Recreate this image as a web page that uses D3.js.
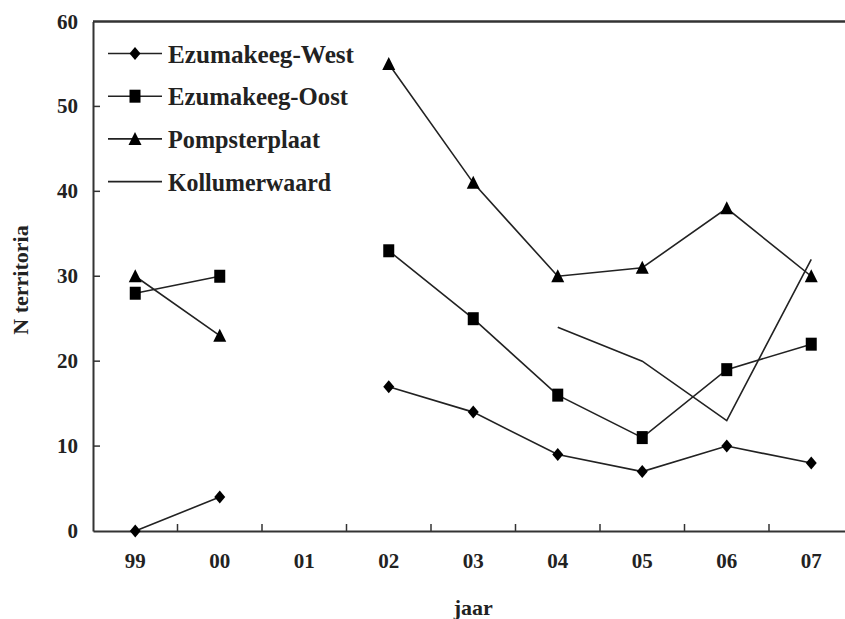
<!DOCTYPE html>
<html lang="en">

<head>
	<meta charset="utf-8">
	<title>N territoria per jaar</title>
	<script type="text/javascript" src="https://cdn.jsdelivr.net/npm/d3@7/dist/d3.min.js"></script>
	<style type="text/css">
		body { margin: 0; background: #fff; }
		text { font-family: "Liberation Serif", "Times New Roman", serif; font-weight: bold; fill: #222; }
	</style>
</head>

<body>
	<script type="text/javascript">
		//Width and height
		var w = 845;
		var h = 619;

		// data
		var years = ["99", "00", "01", "02", "03", "04", "05", "06", "07"];
		var westValues = [0, 4, null, 17, 14, 9, 7, 10, 8];
		var oostValues = [28, 30, null, 33, 25, 16, 11, 19, 22];
		var pompValues = [30, 23, null, 55, 41, 30, 31, 38, 30];
		var kollumValues = [null, null, null, null, null, 24, 20, 13, 32];
		var seriesNames = ["Ezumakeeg-West", "Ezumakeeg-Oost", "Pompsterplaat", "Kollumerwaard"];
		var yTicks = [0, 10, 20, 30, 40, 50, 60];

		var series = [
			{ name: seriesNames[0], values: westValues, marker: "diamond" },
			{ name: seriesNames[1], values: oostValues, marker: "square" },
			{ name: seriesNames[2], values: pompValues, marker: "triangle" },
			{ name: seriesNames[3], values: kollumValues, marker: "none" }
		];

		// plot box
		var plotLeft = 93, plotRight = 853.5, plotTop = 21.5, plotBottom = 531;

		// create scales
		var xScale = d3.scaleBand()
			.domain(years)
			.range([plotLeft, plotRight]);

		var yScale = d3.scaleLinear()
			.domain([0, 60])
			.range([plotBottom, plotTop]);

		function cx(i) {
			return xScale(years[i]) + xScale.bandwidth() / 2;
		}

		// marker shapes, centred on (x, y)
		function markerPath(type, x, y) {
			if (type === "diamond") {
				return "M" + x + "," + (y - 6.5) + "L" + (x + 5.5) + "," + y + "L" + x + "," + (y + 6.5) + "L" + (x - 5.5) + "," + y + "Z";
			}
			if (type === "square") {
				return "M" + (x - 5.5) + "," + (y - 6.5) + "h11v13h-11Z";
			}
			if (type === "triangle") {
				return "M" + x + "," + (y - 7) + "L" + (x + 6.5) + "," + (y + 6) + "L" + (x - 6.5) + "," + (y + 6) + "Z";
			}
			return "";
		}

		//Create SVG element
		var svg = d3.select("body")
			.append("svg")
			.attr("width", w)
			.attr("height", h);

		// axes
		var xAxis = d3.axisBottom(xScale).tickSize(0).tickFormat("");
		svg.append("g")
			.attr("transform", "translate(0," + plotBottom + ")")
			.call(xAxis)
			.call(function (g) { g.select(".domain").attr("stroke", "#333").attr("stroke-width", 2); });

		var yAxis = d3.axisLeft(yScale).tickValues(yTicks).tickSize(0).tickFormat("");
		svg.append("g")
			.attr("transform", "translate(" + plotLeft + ",0)")
			.call(yAxis)
			.call(function (g) { g.select(".domain").attr("stroke", "#333").attr("stroke-width", 2); });

		// top frame line
		svg.append("line")
			.attr("x1", plotLeft)
			.attr("x2", plotRight)
			.attr("y1", yScale(60))
			.attr("y2", yScale(60))
			.attr("stroke", "#333")
			.attr("stroke-width", 2.5);

		// inward tick marks
		svg.selectAll(".xtick")
			.data(years.slice(1))
			.enter()
			.append("line")
			.attr("x1", function (d) { return xScale(d); })
			.attr("x2", function (d) { return xScale(d); })
			.attr("y1", plotBottom)
			.attr("y2", plotBottom - 7)
			.attr("stroke", "#333")
			.attr("stroke-width", 1.5);

		svg.selectAll(".ytick")
			.data(yTicks.slice(1, 6))
			.enter()
			.append("line")
			.attr("x1", plotLeft)
			.attr("x2", plotLeft + 7)
			.attr("y1", function (d) { return yScale(d); })
			.attr("y2", function (d) { return yScale(d); })
			.attr("stroke", "#333")
			.attr("stroke-width", 1.5);

		// tick labels
		svg.selectAll(".ylabel")
			.data(yTicks)
			.enter()
			.append("text")
			.text(function (d) { return d; })
			.attr("text-anchor", "end")
			.attr("x", 78)
			.attr("y", function (d) { return yScale(d) + 7; })
			.attr("font-size", "21px");

		svg.selectAll(".xlabel")
			.data(years)
			.enter()
			.append("text")
			.text(function (d) { return d; })
			.attr("text-anchor", "middle")
			.attr("x", function (d, i) { return cx(i); })
			.attr("y", 568)
			.attr("font-size", "21px");

		// axis titles
		svg.append("text")
			.text("jaar")
			.attr("text-anchor", "middle")
			.attr("x", cx(4))
			.attr("y", 615)
			.attr("font-size", "22px");

		svg.append("text")
			.text("N territoria")
			.attr("text-anchor", "middle")
			.attr("transform", "translate(28,280) rotate(-90)")
			.attr("font-size", "22px");

		// lines
		var line = d3.line()
			.defined(function (d) { return d != null; })
			.x(function (d, i) { return cx(i); })
			.y(function (d) { return yScale(d); });

		svg.selectAll(".series")
			.data(series)
			.enter()
			.append("path")
			.attr("d", function (s) { return line(s.values); })
			.attr("fill", "none")
			.attr("stroke", "#222")
			.attr("stroke-width", 1.6);

		// markers
		series.forEach(function (s) {
			if (s.marker === "none") return;
			svg.selectAll(null)
				.data(s.values.map(function (v, i) { return { v: v, i: i }; })
					.filter(function (d) { return d.v != null; }))
				.enter()
				.append("path")
				.attr("d", function (d) { return markerPath(s.marker, cx(d.i), yScale(d.v)); })
				.attr("fill", "#000");
		});

		// legend
		var legendWidths = [186, 180, 152, 163];
		var legend = svg.selectAll(".legend")
			.data(series)
			.enter()
			.append("g")
			.attr("transform", function (d, i) { return "translate(0," + (53.5 + i * 42.7) + ")"; });

		legend.append("line")
			.attr("x1", 108)
			.attr("x2", 162)
			.attr("stroke", "#222")
			.attr("stroke-width", 1.6);

		legend.append("path")
			.attr("d", function (s) { return markerPath(s.marker, 135, 0); })
			.attr("fill", "#000");

		legend.append("text")
			.text(function (s) { return s.name; })
			.attr("x", 168)
			.attr("y", 9)
			.attr("font-size", "26px")
			.attr("textLength", function (s, i) { return legendWidths[i]; })
			.attr("lengthAdjust", "spacingAndGlyphs");
	</script>
</body>

</html>
